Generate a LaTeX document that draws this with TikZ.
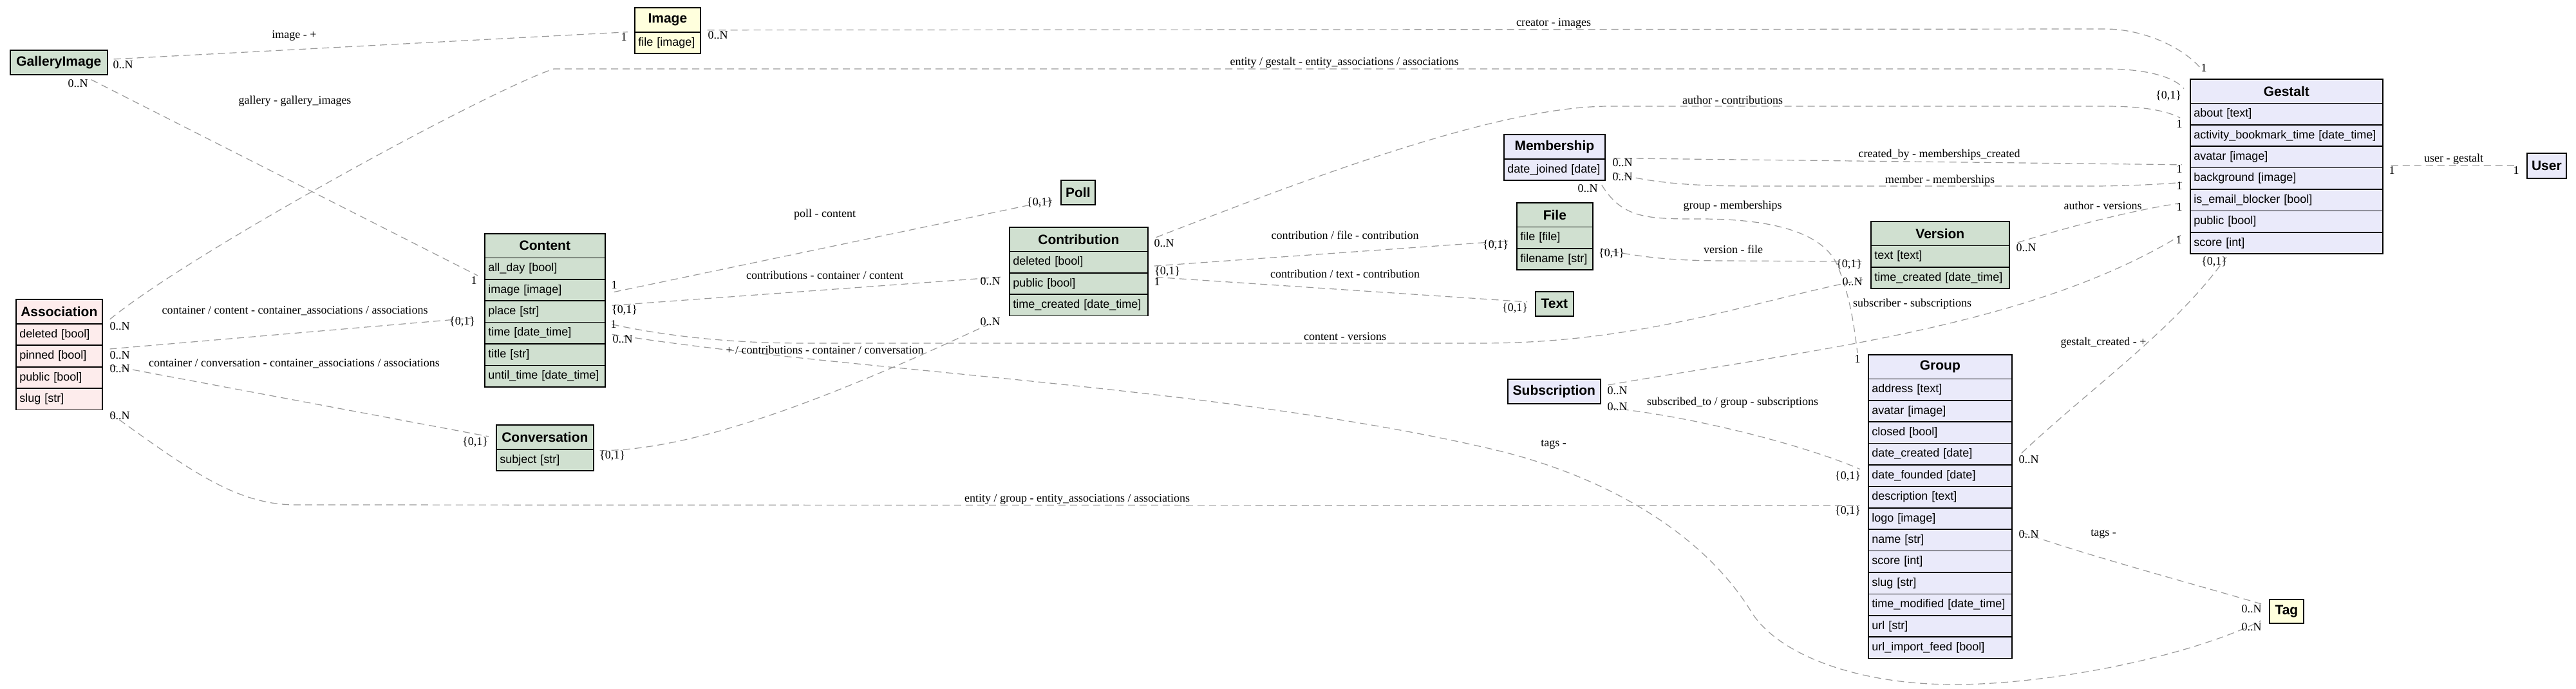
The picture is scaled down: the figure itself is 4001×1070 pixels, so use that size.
\documentclass[tikz,border=0pt]{standalone}
\usepackage{fontspec}
\setmainfont{Liberation Serif}
\newfontfamily\sansf{Liberation Sans}
\usetikzlibrary{calc}
\definecolor{cgreen}{RGB}{208,224,208}
\definecolor{clav}{RGB}{234,234,250}
\definecolor{cpink}{RGB}{253,236,236}
\definecolor{cyel}{RGB}{255,255,221}
\definecolor{egray}{RGB}{155,155,155}
\tikzset{
  hdr/.style={draw=black, line width=1.7pt, anchor=north west, minimum height=37.5pt, inner sep=0pt, font=\sansf\bfseries\fontsize{21}{25}\selectfont},
  att/.style={draw=black, line width=1.7pt, anchor=north west, minimum height=33.4pt, inner xsep=5.5pt, inner ysep=0pt, align=left, font=\sansf\fontsize{18}{22}\selectfont},
  conn/.style={draw=egray, line width=1.2pt, dash pattern=on 11pt off 7pt},
  lbl/.style={inner sep=0pt, font=\fontsize{18}{22}\selectfont},
}
\newcommand\fieldrows[6]{%
  \foreach \ftxt [count=\fidx] in {#6}{%
    \node[att, fill=#5, text width=#4pt] (#1-\fidx) at (#2, {#3+33.4*(\fidx-1)}) {\ftxt};
  }}
\begin{document}
\begin{tikzpicture}[x=1pt, y=-1pt]
\fill[white] (0,0) rectangle (4001,1070);
\useasboundingbox (0,0) rectangle (4001,1070);

% ---------- classes ----------
\node[hdr, fill=cgreen, minimum width=151pt, minimum height=38pt] (gallery) at (15,77) {GalleryImage};

\node[hdr, fill=cyel, minimum width=102pt, minimum height=38pt] (image) at (985,11) {Image};
\fieldrows{image}{985}{49}{91}{cyel}{file [image]}

\node[hdr, fill=clav, minimum width=299pt] (gestalt) at (3401,122) {Gestalt};
\fieldrows{gestalt}{3401}{159.5}{288}{clav}{about [text], activity\_bookmark\_time [date\_time], avatar [image], background [image], is\_email\_blocker [bool], public [bool], score [int]}

\node[hdr, fill=clav, minimum width=61pt, minimum height=39pt] (user) at (3924,237) {User};

\node[hdr, fill=cpink, minimum width=134pt, minimum height=38pt] (association) at (24,464) {Association};
\fieldrows{association}{24}{502}{123}{cpink}{deleted [bool], pinned [bool], public [bool], slug [str]}

\node[hdr, fill=cgreen, minimum width=187pt] (content) at (752,362) {Content};
\fieldrows{content}{752}{399.5}{176}{cgreen}{all\_day [bool], image [image], place [str], time [date\_time], title [str], until\_time [date\_time]}

\node[hdr, fill=cgreen, minimum width=151pt, minimum height=38pt] (conversation) at (770,659) {Conversation};
\fieldrows{conversation}{770}{697}{140}{cgreen}{subject [str]}

\node[hdr, fill=cgreen, minimum width=53pt, minimum height=38pt] (poll) at (1647,279) {Poll};

\node[hdr, fill=cgreen, minimum width=215pt] (contribution) at (1567,352) {Contribution};
\fieldrows{contribution}{1567}{389.5}{204}{cgreen}{deleted [bool], public [bool], time\_created [date\_time]}

\node[hdr, fill=clav, minimum width=157pt, minimum height=38pt] (membership) at (2335,208) {Membership};
\fieldrows{membership}{2335}{246}{146}{clav}{date\_joined [date]}

\node[hdr, fill=cgreen, minimum width=118pt] (file) at (2355,314) {File};
\fieldrows{file}{2355}{351.5}{107}{cgreen}{file [file], filename [str]}

\node[hdr, fill=cgreen, minimum width=59pt, minimum height=38pt] (text) at (2384,452) {Text};

\node[hdr, fill=clav, minimum width=144pt, minimum height=38pt] (subscription) at (2341,588) {Subscription};

\node[hdr, fill=cgreen, minimum width=215pt] (version) at (2905,343) {Version};
\fieldrows{version}{2905}{380.5}{204}{cgreen}{text [text], time\_created [date\_time]}

\node[hdr, fill=clav, minimum width=223pt] (group) at (2901,550) {Group};
\fieldrows{group}{2901}{587.5}{212}{clav}{address [text], avatar [image], closed [bool], date\_created [date], date\_founded [date], description [text], logo [image], name [str], score [int], slug [str], time\_modified [date\_time], url [str], url\_import\_feed [bool]}

\node[hdr, fill=cyel, minimum width=53pt, minimum height=37pt] (tag) at (3524,930) {Tag};

% ---------- connectors ----------
\draw[conn] ($(gallery.east)+(9,-5)$) -- ($(image.south west)+(-10,-1)$);
\draw[conn] ($(gallery.south east)+(-26,7)$) -- ($(content-1.west)+(-10,11)$);
\draw[conn] ($(association.east)+(11,12)$) .. controls (300,390) and (760,140) .. (860,107) -- (3270,107) .. controls (3330,107) and (3375,118) .. ($(gestalt.west)+(-9,-4)$);
\draw[conn] ($(image.south east)+(10,-4)$) -- (3270,45) .. controls (3330,45) and (3395,75) .. ($(gestalt.north west)+(20,-12)$);
\draw[conn] ($(content-2.east)+(13,3)$) -- ($(poll.west)+(-7,11)$);
\draw[conn] ($(content-3.east)+(10,-9.5)$) -- ($(contribution-2.west)+(-9,-10.5)$);
\draw[conn] ($(content-4.east)+(10,-13.4)$) .. controls (1050,525) and (1150,533) .. (1250,533) -- (2300,533) .. controls (2550,533) and (2720,468) .. ($(version-2.west)+(-12,3)$);
\draw[conn] ($(content-4.east)+(10,2)$) .. controls (1300,575) and (1900,600) .. (2315,697) .. controls (2480,735) and (2640,820) .. (2720,950) .. controls (2760,1015) and (2880,1062) .. (3030,1063) .. controls (3180,1064) and (3400,1020) .. ($(tag.west)+(-12,14.5)$);
\draw[conn] ($(conversation.south east)+(9,1)$) .. controls (1100,700) and (1350,590) .. ($(contribution-3.south west)+(-18,6)$);
\draw[conn] ($(association-2.east)+(11,-11)$) -- ($(content-3.west)+(-18,10)$);
\draw[conn] ($(association-2.south east)+(11,-3)$) -- ($(conversation.west)+(-11,-1)$);
\draw[conn] ($(association-4.south east)+(11,4)$) .. controls (300,735) and (370,784) .. (460,784) -- ($(group-6.west)+(-13,13)$);
\draw[conn] ($(contribution.east)+(12,-3)$) .. controls (2050,270) and (2330,165) .. (2500,165) -- (3270,165) .. controls (3330,165) and (3365,172) .. ($(gestalt-1.west)+(-15,6)$);
\draw[conn] ($(contribution-1.east)+(9,6)$) -- ($(file-1.west)+(-12,5)$);
\draw[conn] ($(contribution-2.east)+(12,-10)$) -- ($(text.west)+(-12,-3)$);
\draw[conn] ($(file-1.south east)+(11,0)$) .. controls (2550,400) and (2600,405) .. (2680,405) -- ($(version-1.west)+(-12,8)$);
\draw[conn] ($(membership.south east)+(12,-2)$) -- ($(gestalt-3.west)+(-12,12)$);
\draw[conn] ($(membership-1.east)+(12,4.5)$) .. controls (2560,283) and (2620,289) .. (2720,289) -- (3250,289) .. controls (3300,289) and (3360,286) .. ($(gestalt-4.west)+(-12,6)$);
\draw[conn] ($(membership-1.south east)+(-6,6)$) .. controls (2520,340) and (2560,340) .. (2640,340) .. controls (2720,340) and (2830,350) .. (2855,415) .. controls (2875,465) and (2880,510) .. ($(group.north west)+(-16,-2)$);
\draw[conn] ($(version.south east)+(12,-5.5)$) .. controls (3220,350) and (3320,325) .. ($(gestalt-5.west)+(-15,5)$);
\draw[conn] ($(subscription.east)+(11,-10)$) .. controls (2800,545) and (3150,510) .. ($(gestalt-7.west)+(-14,-12)$);
\draw[conn] ($(subscription.south east)+(14,6)$) .. controls (2620,645) and (2800,690) .. ($(group-5.west)+(-12,-10)$);
\draw[conn] ($(group-4.east)+(14,-1.4)$) .. controls (3250,600) and (3380,510) .. ($(gestalt-7.south west)+(57,4)$);
\draw[conn] ($(group-8.east)+(14,-12)$) .. controls (3250,865) and (3400,905) .. ($(tag.west)+(-12,-11.5)$);
\draw[conn] ($(gestalt-4.north east)+(12,-3)$) -- ($(user.west)+(-14,0)$);

% ---------- edge labels ----------
\node[lbl] (t1) at (457,55) {image - +};
\node[lbl] (t2) at (458,157) {gallery - gallery\_images};
\node[lbl] (t3) at (2088,97) {entity / gestalt - entity\_associations / associations};
\node[lbl] (t4) at (2413,36) {creator - images};
\node[lbl] (t5) at (1281,333) {poll - content};
\node[lbl] (t6) at (1281,427) {contributions - container / content};
\node[lbl] (t7) at (2089,523) {content - versions};
\node[lbl] (t8) at (2413,690) {tags -};
\node[lbl] (t9) at (1281,543) {+ / contributions - container / conversation};
\node[lbl] (t10) at (458,483) {container / content - container\_associations / associations};
\node[lbl] (t11) at (457,565) {container / conversation - container\_associations / associations};
\node[lbl] (t12) at (1673,775) {entity / group - entity\_associations / associations};
\node[lbl] (t13) at (2691,155) {author - contributions};
\node[lbl] (t14) at (2089,365) {contribution / file - contribution};
\node[lbl] (t15) at (2089,425) {contribution / text - contribution};
\node[lbl] (t16) at (2692,387) {version - file};
\node[lbl] (t17) at (3012,240) {created\_by - memberships\_created};
\node[lbl] (t18) at (3013,280) {member - memberships};
\node[lbl] (t19) at (2691,320) {group - memberships};
\node[lbl] (t20) at (3266,319) {author - versions};
\node[lbl] (t21) at (2970,472) {subscriber - subscriptions};
\node[lbl] (t22) at (2691,625) {subscribed\_to / group - subscriptions};
\node[lbl] (t23) at (3267,532) {gestalt\_created - +};
\node[lbl] (t24) at (3267,829) {tags -};
\node[lbl] (t25) at (3811,247) {user - gestalt};

% ---------- multiplicities ----------
\node[lbl] (m1) at (191,101) {0..N};
\node[lbl] (m2) at (969,58) {1};
\node[lbl] (m3) at (121,130) {0..N};
\node[lbl] (m4) at (736,436) {1};
\node[lbl] (m5) at (186,507) {0..N};
\node[lbl] (m6) at (3368,149) {\{0,1\}};
\node[lbl] (m7) at (1115,55) {0..N};
\node[lbl] (m8) at (3423,106) {1};
\node[lbl] (m9) at (954,443) {1};
\node[lbl] (m10) at (1615,315) {\{0,1\}};
\node[lbl] (m11) at (970,482) {\{0,1\}};
\node[lbl] (m12) at (1538,437) {0..N};
\node[lbl] (m13) at (953,504) {1};
\node[lbl] (m14) at (2877,438) {0..N};
\node[lbl] (m15) at (967,527) {0..N};
\node[lbl] (m16) at (3497,974) {0..N};
\node[lbl] (m17) at (951,708) {\{0,1\}};
\node[lbl] (m18) at (1538,500) {0..N};
\node[lbl] (m19) at (186,552) {0..N};
\node[lbl] (m20) at (718,500) {\{0,1\}};
\node[lbl] (m21) at (186,573) {0..N};
\node[lbl] (m22) at (738,687) {\{0,1\}};
\node[lbl] (m23) at (186,646) {0..N};
\node[lbl] (m24) at (2870,794) {\{0,1\}};
\node[lbl] (m25) at (1808,378) {0..N};
\node[lbl] (m26) at (3385,193) {1};
\node[lbl] (m27) at (1813,422) {\{0,1\}};
\node[lbl] (m28) at (2323,381) {\{0,1\}};
\node[lbl] (m29) at (1797,438) {1};
\node[lbl] (m30) at (2353,479) {\{0,1\}};
\node[lbl] (m31) at (2503,394) {\{0,1\}};
\node[lbl] (m32) at (2872,411) {\{0,1\}};
\node[lbl] (m33) at (2520,253) {0..N};
\node[lbl] (m34) at (3385,263) {1};
\node[lbl] (m35) at (2520,275) {0..N};
\node[lbl] (m36) at (3385,289) {1};
\node[lbl] (m37) at (2466,293) {0..N};
\node[lbl] (m38) at (2885,558) {1};
\node[lbl] (m39) at (3147,385) {0..N};
\node[lbl] (m40) at (3385,322) {1};
\node[lbl] (m41) at (2512,607) {0..N};
\node[lbl] (m42) at (3384,373) {1};
\node[lbl] (m43) at (2512,632) {0..N};
\node[lbl] (m44) at (2870,740) {\{0,1\}};
\node[lbl] (m45) at (3151,714) {0..N};
\node[lbl] (m46) at (3439,407) {\{0,1\}};
\node[lbl] (m47) at (3151,830) {0..N};
\node[lbl] (m48) at (3497,946) {0..N};
\node[lbl] (m49) at (3715,265) {1};
\node[lbl] (m50) at (3908,265) {1};
\end{tikzpicture}
\end{document}
